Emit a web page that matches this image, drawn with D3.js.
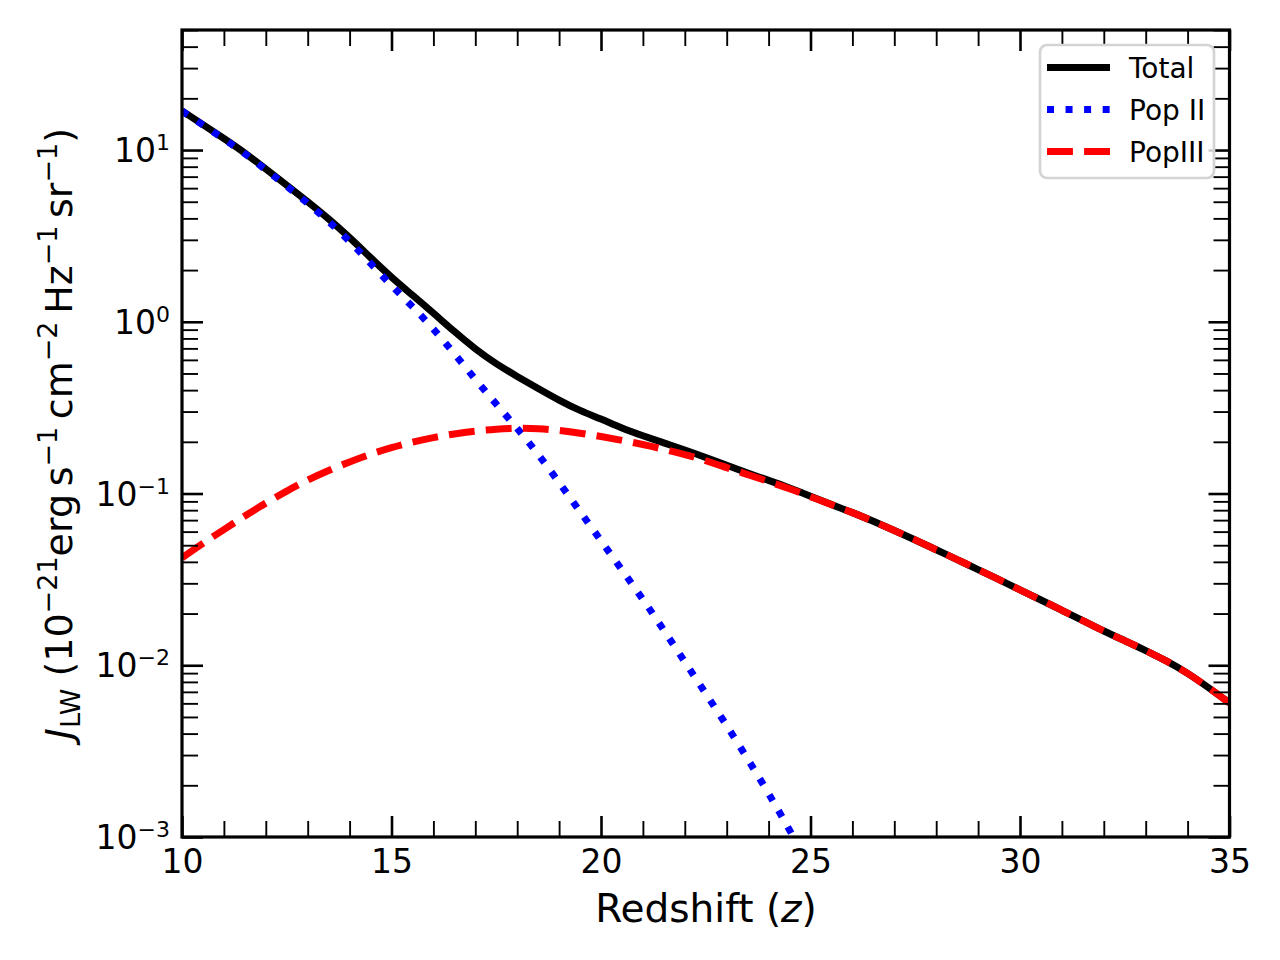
<!DOCTYPE html>
<html><head><meta charset="utf-8">
<script src="https://cdn.jsdelivr.net/npm/d3@7"></script>
<style>
body{margin:0;background:#fff}
svg{display:block}
text{font-family:"DejaVu Sans",sans-serif;fill:#000}
</style>
</head><body>
<svg id="chart" width="1280" height="960"></svg>
<script>
// ---------------- data ----------------
const redshift = [10,10.5,11,11.5,12,12.5,13,13.5,14,14.5,15,15.5,16,16.5,17,17.5,18,18.5,19,19.5,
  20,20.5,21,21.5,22,22.5,23,23.5,24,24.5,25,25.5,26,26.5,27,27.5,28,28.5,29,29.5,
  30,30.5,31,31.5,32,32.5,33,33.5,34,34.5,35];

const totalJ = [16.9,14.06,11.69,9.64,7.76,6.25,5.0,3.98,3.10,2.36,1.81,1.43,1.124,0.876,0.693,0.568,0.480,0.409,0.349,0.303,
  0.272,0.240,0.217,0.197,0.1795,0.1624,0.1458,0.1317,0.1193,0.1078,0.0966,0.0861,0.0776,0.0689,0.0610,0.0537,0.0471,0.0412,0.0361,0.0315,
  0.0275,0.0240,0.0209,0.0182,0.0158,0.0139,0.0122,0.0106,0.00902,0.00741,0.00603];

const popIIRedshift = [10,10.5,11,11.5,12,12.5,13,13.5,14,14.5,15,15.5,16,16.5,17,17.5,18,18.5,19,19.5,
  20,20.5,21,21.5,22,22.5,23,23.5,24,24.5,25];
const popIIJ = [16.9,13.96,11.61,9.55,7.67,6.17,4.90,3.85,2.95,2.19,1.62,1.23,0.912,0.653,0.462,0.331,0.240,0.170,0.116,0.0785,
  0.0531,0.0359,0.0243,0.0160,0.01047,0.00684,0.00447,0.00285,0.00180,0.00110,0.00066];

const popIIIJ = [0.0422,0.0513,0.0617,0.0741,0.0881,0.1035,0.1202,0.1365,0.1531,0.1698,0.1854,0.1995,0.2118,0.2228,0.2312,0.2371,0.2404,0.2388,0.2333,0.2249,
  0.2148,0.2042,0.1932,0.1811,0.1690,0.1556,0.1413,0.1288,0.1175,0.1067,0.0959,0.0861,0.0776,0.0689,0.0610,0.0537,0.0471,0.0412,0.0361,0.0315,
  0.0275,0.0240,0.0209,0.0182,0.0158,0.0139,0.0122,0.0106,0.00902,0.00741,0.00603];

const xTickValues = [10,15,20,25,30,35];
const xTickLabels = ["10","15","20","25","30","35"];
const xMinorValues = [11,12,13,14,16,17,18,19,21,22,23,24,26,27,28,29,31,32,33,34];
const yTickValues = [1e-3,1e-2,1e-1,1,10];
const yTickExponents = ["−3","−2","−1","0","1"];
const legendLabels = ["Total","Pop II","PopIII"];
const seriesColors = ["#000000","#0000ff","#ff0000"];

// ---------------- layout ----------------
const svg = d3.select("#chart");
const L = 182, R = 1229.5, T = 30, B = 837;
const x = d3.scaleLinear().domain([10,35]).range([L,R]);
const y = d3.scaleLog().domain([1e-3,50]).range([B,T]);

const yMinorValues = [];
[-3,-2,-1,0,1].forEach(e => { for (let m=2;m<=9;m++){ const v=m*Math.pow(10,e); if (v<=50) yMinorValues.push(v);} });

svg.append("defs").append("clipPath").attr("id","plotclip")
  .append("rect").attr("x",L).attr("y",T).attr("width",R-L).attr("height",B-T);

const lw = 7;
const lineGen = d3.line().x(d=>x(d[0])).y(d=>y(d[1])).curve(d3.curveBasis);
const plot = svg.append("g").attr("clip-path","url(#plotclip)");

plot.append("path").datum(redshift.map((z,i)=>[z,totalJ[i]]))
  .attr("d",lineGen).attr("fill","none").attr("stroke",seriesColors[0])
  .attr("stroke-width",lw).attr("stroke-linejoin","round").attr("stroke-linecap","butt");
plot.append("path").datum(popIIRedshift.map((z,i)=>[z,popIIJ[i]]))
  .attr("d",lineGen).attr("fill","none").attr("stroke",seriesColors[1])
  .attr("stroke-width",lw).attr("stroke-dasharray",`${lw*1} ${lw*1.65}`).attr("stroke-linecap","butt");
plot.append("path").datum(redshift.map((z,i)=>[z,popIIIJ[i]]))
  .attr("d",lineGen).attr("fill","none").attr("stroke",seriesColors[2])
  .attr("stroke-width",lw).attr("stroke-dasharray",`${lw*3.7} ${lw*1.6}`).attr("stroke-linecap","butt");

// ---------------- axes (ticks inward on all sides) ----------------
const majW = 2.6, minW = 1.9, majLen = 21, minLen = 16;
function styleAxis(g, w){ g.select(".domain").remove(); g.selectAll(".tick line").attr("stroke","#000").attr("stroke-width",w); }

svg.append("g").attr("transform",`translate(0,${B})`)
  .call(d3.axisBottom(x).tickValues(xTickValues).tickSizeInner(-majLen).tickSizeOuter(0).tickPadding(14)
    .tickFormat((d,i)=>xTickLabels[i]))
  .call(g=>{styleAxis(g,majW); g.selectAll(".tick text").attr("font-size",33).attr("font-family","DejaVu Sans").attr("dy","0.71em").attr("y",13);});
svg.append("g").attr("transform",`translate(0,${B})`)
  .call(d3.axisBottom(x).tickValues(xMinorValues).tickSizeInner(-minLen).tickSizeOuter(0).tickFormat(""))
  .call(g=>styleAxis(g,minW));
svg.append("g").attr("transform",`translate(0,${T})`)
  .call(d3.axisTop(x).tickValues(xTickValues).tickSizeInner(-majLen).tickSizeOuter(0).tickFormat(""))
  .call(g=>styleAxis(g,majW));
svg.append("g").attr("transform",`translate(0,${T})`)
  .call(d3.axisTop(x).tickValues(xMinorValues).tickSizeInner(-minLen).tickSizeOuter(0).tickFormat(""))
  .call(g=>styleAxis(g,minW));

svg.append("g").attr("transform",`translate(${L},0)`)
  .call(d3.axisLeft(y).tickValues(yTickValues).tickSizeInner(-majLen).tickSizeOuter(0).tickFormat(""))
  .call(g=>styleAxis(g,majW));
svg.append("g").attr("transform",`translate(${L},0)`)
  .call(d3.axisLeft(y).tickValues(yMinorValues).tickSizeInner(-minLen).tickSizeOuter(0).tickFormat(""))
  .call(g=>styleAxis(g,minW));
svg.append("g").attr("transform",`translate(${R},0)`)
  .call(d3.axisRight(y).tickValues(yTickValues).tickSizeInner(-majLen).tickSizeOuter(0).tickFormat(""))
  .call(g=>styleAxis(g,majW));
svg.append("g").attr("transform",`translate(${R},0)`)
  .call(d3.axisRight(y).tickValues(yMinorValues).tickSizeInner(-minLen).tickSizeOuter(0).tickFormat(""))
  .call(g=>styleAxis(g,minW));

// y tick labels 10^n
const yLab = svg.append("g");
yTickValues.forEach((v,i)=>{
  const t = yLab.append("text").attr("x",170).attr("y",y(v)+12).attr("text-anchor","end").attr("font-size",33);
  t.append("tspan").text("10");
  t.append("tspan").attr("font-size",22).attr("dy",-12).text(yTickExponents[i]);
});

// frame
svg.append("rect").attr("x",L).attr("y",T).attr("width",R-L).attr("height",B-T)
  .attr("fill","none").attr("stroke","#000").attr("stroke-width",3.2);

// axis labels
const xl = svg.append("text").attr("x",706).attr("y",922).attr("text-anchor","middle").attr("font-size",39);
xl.append("tspan").text("Redshift (");
xl.append("tspan").attr("font-style","italic").text("z");
xl.append("tspan").text(")");

const yl = svg.append("text").attr("transform",`translate(72,${(T+B)/2}) rotate(-90)`)
  .attr("text-anchor","middle").attr("font-size",38);
const supDy = 15, supFs = 27;
yl.append("tspan").attr("font-style","italic").text("J");
yl.append("tspan").attr("font-size",27).attr("dy",8).text("LW");
yl.append("tspan").attr("dy",-8).text(" (10");
yl.append("tspan").attr("font-size",supFs).attr("dy",-supDy).text("−21");
yl.append("tspan").attr("dy",supDy).text("erg\u2009s");
yl.append("tspan").attr("font-size",supFs).attr("dy",-supDy).text("−1");
yl.append("tspan").attr("dy",supDy).text("\u2009cm");
yl.append("tspan").attr("font-size",supFs).attr("dy",-supDy).text("−2");
yl.append("tspan").attr("dy",supDy).text("\u2009Hz");
yl.append("tspan").attr("font-size",supFs).attr("dy",-supDy).text("−1");
yl.append("tspan").attr("dy",supDy).text("\u2009sr");
yl.append("tspan").attr("font-size",supFs).attr("dy",-supDy).text("−1");
yl.append("tspan").attr("dy",supDy).text(")");

// legend
const lg = svg.append("g");
lg.append("rect").attr("x",1040).attr("y",45).attr("width",174).attr("height",133).attr("rx",7)
  .attr("fill","rgba(255,255,255,0.8)").attr("stroke","#d4d4d4").attr("stroke-width",2.7);
const legY = [67.5,109.5,151.5];
const dashes = [null, `${lw} ${lw*1.65}`, `${lw*3.7} ${lw*1.6}`];
legendLabels.forEach((name,i)=>{
  const ln = lg.append("line").attr("x1",1047).attr("x2",1110).attr("y1",legY[i]).attr("y2",legY[i])
    .attr("stroke",seriesColors[i]).attr("stroke-width",lw);
  if (dashes[i]) ln.attr("stroke-dasharray",dashes[i]);
  lg.append("text").attr("x",1129).attr("y",legY[i]+10).attr("font-size",28).text(name);
});
</script>
</body></html>
